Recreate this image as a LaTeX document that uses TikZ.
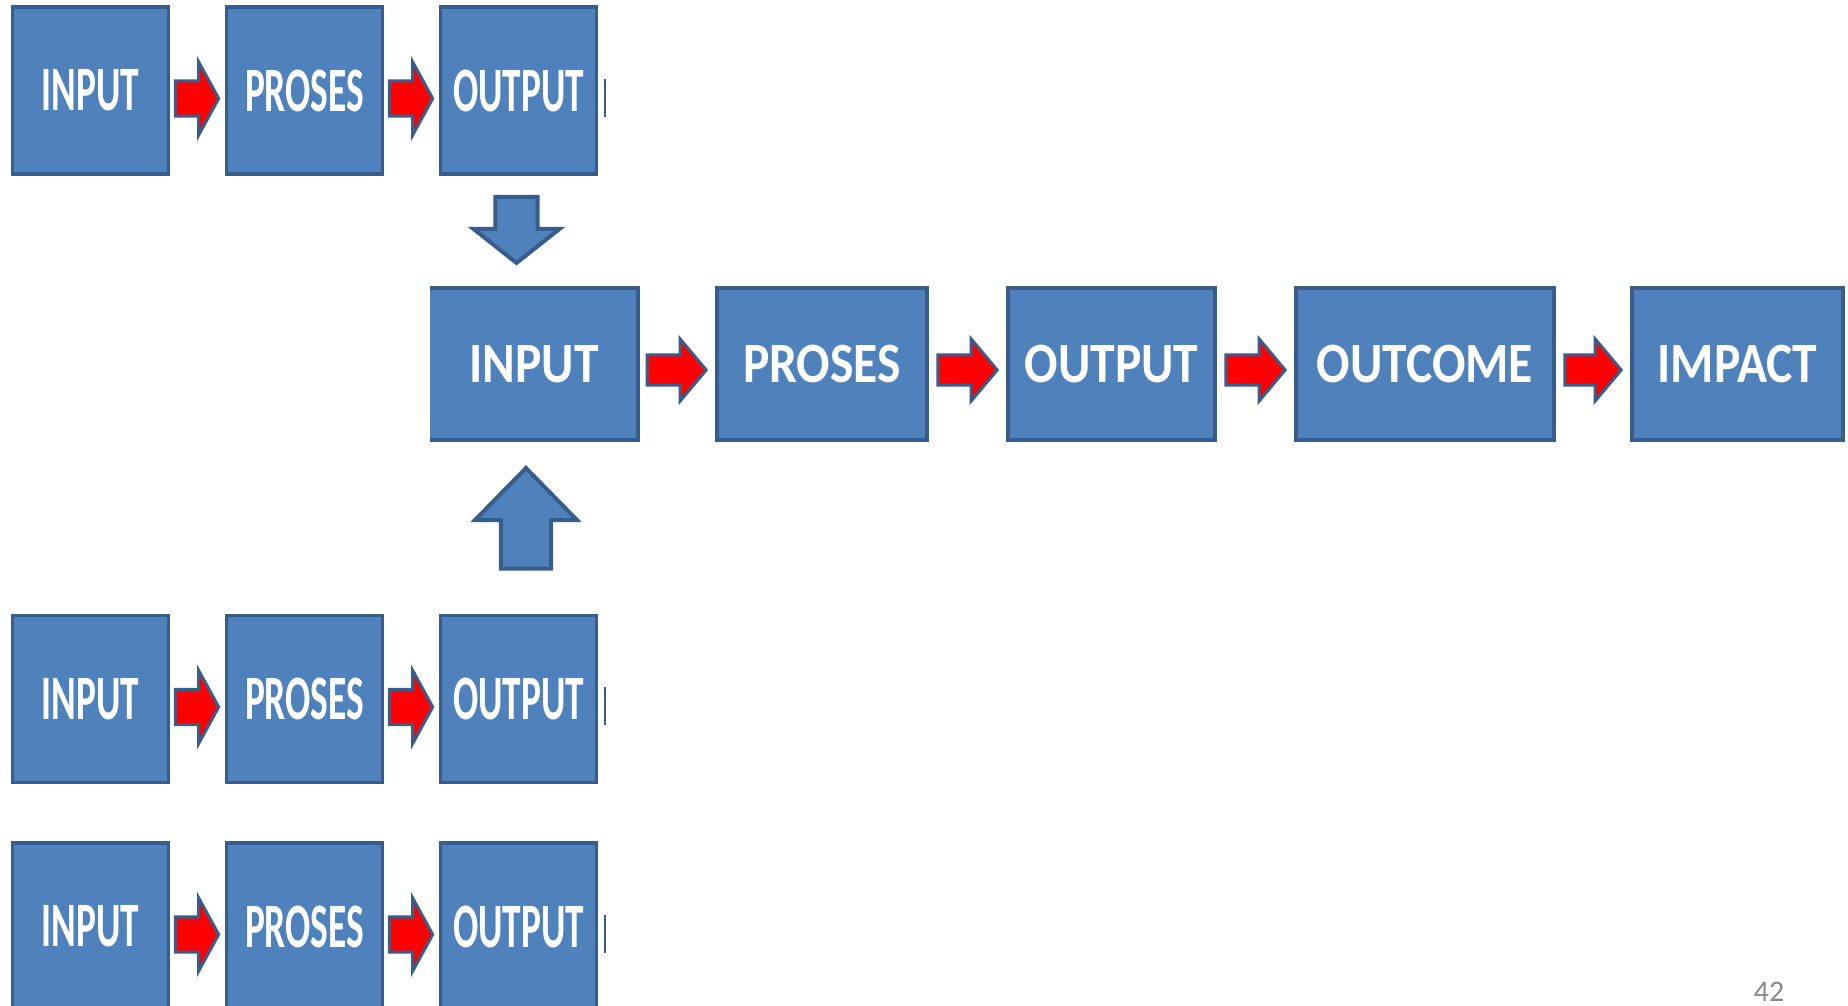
\documentclass[tikz,border=0pt]{standalone}
\usepackage{fontspec}
\setmainfont{Carlito}
\newfontfamily\slimfont[FakeStretch=0.59]{Carlito}
\newfontfamily\wideboxfont[FakeStretch=0.87]{Carlito}
\usetikzlibrary{calc}

\definecolor{boxblue}{RGB}{79,129,189}
\definecolor{edgeblue}{RGB}{56,93,138}
\definecolor{pagegray}{RGB}{137,137,137}

% block arrow: style, tail, tip, half shaft, half head, head length
\newcommand{\fatarrow}[6]{%
  \draw[#1] let \p1=#2, \p2=#3, \p3=($(\p2)!#6!(\p1)$) in
    ($(\p1)!#4!90:(\p2)$) -- ($(\p3)!#4!90:(\p2)$) -- ($(\p3)!#5!90:(\p2)$) -- (\p2)
    -- ($(\p3)!#5!-90:(\p2)$) -- ($(\p3)!#4!-90:(\p2)$) -- ($(\p1)!#4!-90:(\p2)$) -- cycle;}

\begin{document}
\begin{tikzpicture}[x=0.01cm, y=-0.01cm,
    box/.style={fill=boxblue, draw=edgeblue, line width=0.035cm, inner sep=0pt, text=white},
    small/.style={box, minimum width=1.56cm, minimum height=1.67cm,
      font=\slimfont\bfseries\fontsize{18}{18}\selectfont},
    big/.style={box, minimum height=1.52cm,
      font=\wideboxfont\bfseries\fontsize{16.2}{16}\selectfont},
    redarrow/.style={fill=red, draw=edgeblue, line width=0.03cm},
    bluearrow/.style={fill=boxblue, draw=edgeblue, line width=0.04cm}]

% white background
\fill[white] (0,0) rectangle (1848,1006);
\useasboundingbox (0,0) rectangle (1848,1006);
\clip (0,0) rectangle (1848,1006);

% the three small chains
\foreach \r/\y in {1/90.5, 3/699, 4/926.5} {
  \node[small] (in\r)  at (90.5,\y)  {INPUT};
  \node[small] (pr\r)  at (304.5,\y) {PROSES};
  \node[small] (out\r) at (518.5,\y) {OUTPUT};
  \fatarrow{redarrow}{($(in\r.east)+(5,8)$)}{($(pr\r.west)+(-6,8)$)}{0.175cm}{0.365cm}{0.2cm}
  \fatarrow{redarrow}{($(pr\r.east)+(5,8)$)}{($(out\r.west)+(-6,8)$)}{0.175cm}{0.365cm}{0.2cm}
  \fill[edgeblue] ($(out\r.east)+(6,-12)$) rectangle +(2,38);
}

% main chain
\node[big, draw=none, outer sep=0pt, minimum width=2.08cm] (in2) at (534,364) {INPUT};
\draw[edgeblue, line width=0.035cm]
    (in2.north west) -- (in2.north east) -- (in2.south east) -- (in2.south west);
\node[big, minimum width=2.10cm] (pr2)  at (822,364)    {PROSES};
\node[big, minimum width=2.07cm] (out2) at (1111.5,364) {OUTPUT};
\node[big, minimum width=2.58cm] (oc)   at (1425,364)   {OUTCOME};
\node[big, minimum width=2.11cm] (im)   at (1737.5,364) {IMPACT};

\fatarrow{redarrow}{($(in2.east)+(9,6)$)}{($(pr2.west)+(-9,6)$)}{0.15cm}{0.31cm}{0.26cm}
\fatarrow{redarrow}{($(pr2.east)+(9,6)$)}{($(out2.west)+(-9,6)$)}{0.15cm}{0.31cm}{0.26cm}
\fatarrow{redarrow}{($(out2.east)+(9,6)$)}{($(oc.west)+(-9,6)$)}{0.15cm}{0.31cm}{0.26cm}
\fatarrow{redarrow}{($(oc.east)+(9,6)$)}{($(im.west)+(-9,6)$)}{0.15cm}{0.31cm}{0.26cm}

% feeding arrows
\fatarrow{bluearrow}{($(out1.south)+(-2,21)$)}{($(out1.south |- in2.north)+(-2,-25)$)}{0.21cm}{0.43cm}{0.34cm}
\fatarrow{bluearrow}{($(out3.north)+(7.5,-45)$)}{($(out3.north |- in2.south)+(7.5,28)$)}{0.25cm}{0.51cm}{0.52cm}

\node[text=pagegray, font=\fontsize{8.5}{9}\selectfont] (page) at (1769,992) {42};

\end{tikzpicture}
\end{document}
